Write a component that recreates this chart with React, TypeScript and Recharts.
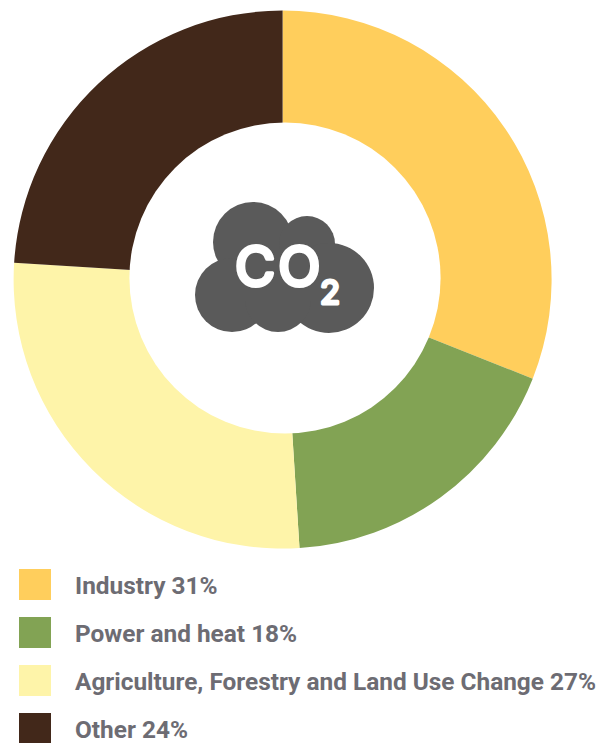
import React from "react";
import { PieChart, Pie, Cell, Legend } from "recharts";

const categories = ["Industry", "Power and heat", "Agriculture, Forestry and Land Use Change", "Other"];
const shares = [31, 18, 27, 24];
const colors = ["#FFCE5C", "#82A354", "#FEF4A9", "#42281A"];

const rows = categories.map((name, i) => ({ name, value: shares[i] }));

// White hole of the ring with the CO2 cloud on top of it, layered above the chart
function CloudIcon() {
  const ink = "#5A5A5A";
  return (
    <svg width={600} height={743} style={{ position: "absolute", left: 0, top: 0, pointerEvents: "none" }}>
      <circle cx={285} cy={278} r={155.6} fill="#fff" />
      <circle cx={253} cy={242} r={40} fill={ink} />
      <circle cx={307} cy={244} r={28} fill={ink} />
      <circle cx={329} cy={288} r={45} fill={ink} />
      <circle cx={232} cy={295} r={37} fill={ink} />
      <circle cx={278} cy={299} r={33} fill={ink} />
      <rect x={240} y={250} width={80} height={50} fill={ink} />
      <text
        x={235}
        y={286}
        fill="#fff"
        stroke="#fff"
        strokeWidth={4}
        strokeLinejoin="round"
        fontFamily="Inter, sans-serif"
        fontWeight={400}
        fontSize={55}
        letterSpacing={3}
      >
        CO
      </text>
      <text
        x={320}
        y={304}
        fill="#fff"
        stroke="#fff"
        strokeWidth={3}
        strokeLinejoin="round"
        fontFamily="Inter, sans-serif"
        fontWeight={400}
        fontSize={33}
      >
        2
      </text>
    </svg>
  );
}

function LegendRows({ payload }: any) {
  return (
    <div>
      {(payload || []).map((entry: any, i: number) => (
        <div key={entry.value} style={{ position: "absolute", left: 0, top: i * 48, height: 31, width: 600 }}>
          <div style={{ position: "absolute", left: 19, top: 0, width: 32, height: 31, background: entry.color }} />
          <div
            style={{
              position: "absolute",
              left: 75,
              top: 1,
              lineHeight: "31px",
              fontFamily: "Roboto, sans-serif",
              fontWeight: 700,
              fontSize: 24.4,
              color: "#6D6C73",
              whiteSpace: "nowrap",
            }}
          >
            {`${entry.value} ${entry.payload.value}%`}
          </div>
        </div>
      ))}
    </div>
  );
}

export default function App() {
  return (
    <div style={{ position: "absolute", left: 0, top: 0, width: 600, height: 743, background: "#fff" }}>
      <PieChart width={600} height={743} margin={{ top: 0, right: 0, bottom: 0, left: 0 }}>
        <Pie
          data={rows}
          dataKey="value"
          nameKey="name"
          cx={282.6}
          cy={279.6}
          innerRadius={152}
          outerRadius={269}
          startAngle={90}
          endAngle={-270}
          stroke="none"
          isAnimationActive={false}
        >
          {rows.map((row, i) => (
            <Cell key={row.name} fill={colors[i]} />
          ))}
        </Pie>
        <Legend
          content={<LegendRows />}
          itemSorter={null}
          wrapperStyle={{ position: "absolute", left: 0, top: 569, width: 600, height: 174 }}
        />
      </PieChart>
      <CloudIcon />
    </div>
  );
}
